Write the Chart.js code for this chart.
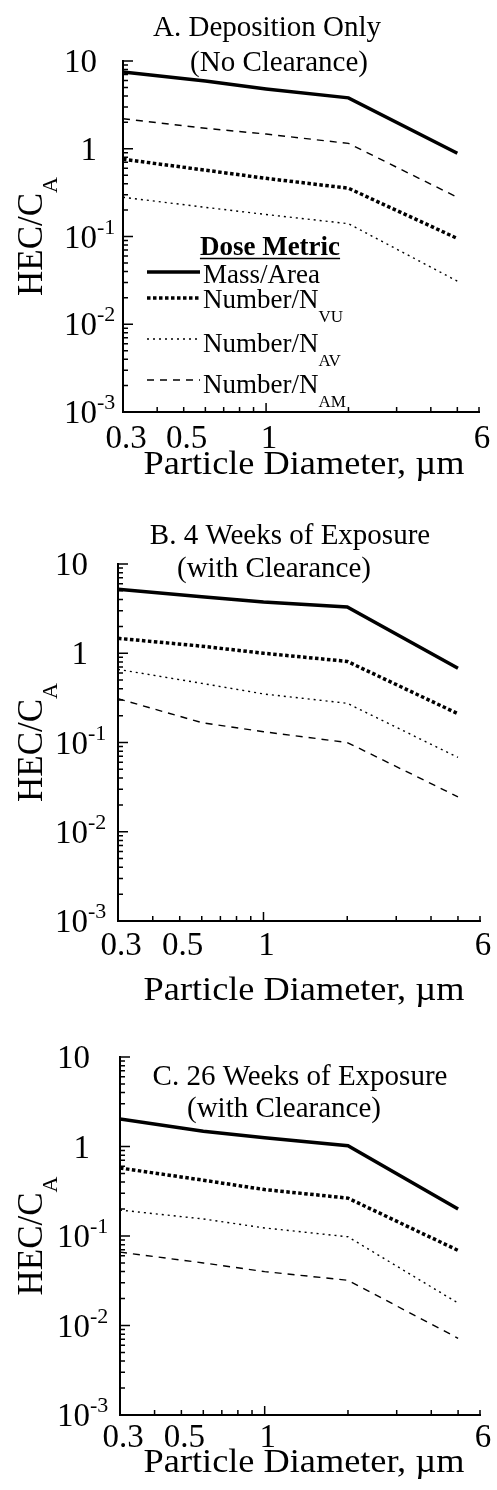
<!DOCTYPE html>
<html>
<head>
<meta charset="utf-8">
<script src="https://cdn.jsdelivr.net/npm/chart.js@4.4.1/dist/chart.umd.min.js"></script>
<style>
  html, body { margin: 0; padding: 0; background: #fff; }
  body { width: 497px; height: 1490px; position: relative; overflow: hidden; }
  canvas { position: absolute; left: 0; }
</style>
</head>
<body>
<canvas id="chartA" width="497" height="490" style="top:0"></canvas>
<canvas id="chartB" width="497" height="530" style="top:490px"></canvas>
<canvas id="chartC" width="497" height="470" style="top:1020px"></canvas>
<script>
// ── Datos ─────────────────────────────────────────────────────────────────────
const DIAMETERS = [0.3, 0.6, 1, 2, 5];           // µm
const X_TICK_LABELS = [0.3, 0.5, 1, 6];
const Y_DECADES = [0.001, 0.01, 0.1, 1, 10];

const METRIC_NAMES = ['Mass/Area', 'Number/N', 'Number/N', 'Number/N'];
const METRIC_SUBS = ['', 'VU', 'AV', 'AM'];

// A. Deposition only
const A_MASS = [7.5, 5.9, 4.8, 3.8, 0.89];
const A_NVU  = [0.76, 0.57, 0.46, 0.355, 0.095];
const A_NAV  = [0.28, 0.215, 0.178, 0.14, 0.031];
const A_NAM  = [2.2, 1.71, 1.47, 1.15, 0.28];

// B. 4 weeks
const B_MASS = [5.2, 4.3, 3.75, 3.3, 0.68];
const B_NVU  = [1.47, 1.2, 1.0, 0.81, 0.21];
const B_NAV  = [0.66, 0.46, 0.35, 0.275, 0.068];
const B_NAM  = [0.31, 0.167, 0.132, 0.1, 0.0246];

// C. 26 weeks
const C_MASS = [2.03, 1.48, 1.25, 1.02, 0.2];
const C_NVU  = [0.575, 0.42, 0.33, 0.265, 0.069];
const C_NAV  = [0.195, 0.155, 0.123, 0.098, 0.0178];
const C_NAM  = [0.066, 0.05, 0.04, 0.032, 0.0072];

const TITLE_A = ['A. Deposition Only', '(No Clearance)'];
const TITLE_B = ['B. 4 Weeks of Exposure', '(with Clearance)'];
const TITLE_C = ['C. 26 Weeks of Exposure', '(with Clearance)'];

const X_TITLE = 'Particle Diameter, \u00b5m';
const Y_TITLE = ['HEC/C', 'A'];
const LEGEND_TITLE = 'Dose Metric';

// ── Estilos ───────────────────────────────────────────────────────────────────
const FONT = '"Liberation Serif", "Times New Roman", serif';
const LINE_STYLES = [
  { borderWidth: 3.5, borderDash: [] },
  { borderWidth: 3.5, borderDash: [3.5, 2.5] },
  { borderWidth: 1.4, borderDash: [2, 4] },
  { borderWidth: 1.4, borderDash: [7, 6] },
];

const PANELS = [
  { id: 'chartA', height: 490, area: { left: 123, top: 61, right: 479, bottom: 412 },
    series: [A_MASS, A_NVU, A_NAV, A_NAM], title: TITLE_A,
    titlePos: [[267, 36], [279, 71]], yLabGap: 26, xLabDy: 36, xTitleDy: 62, legend: true },
  { id: 'chartB', height: 530, area: { left: 118, top: 74, right: 480, bottom: 431 },
    series: [B_MASS, B_NVU, B_NAV, B_NAM], title: TITLE_B,
    titlePos: [[290, 54], [274, 87]], yLabGap: 30, xLabDy: 34, xTitleDy: 79, legend: false },
  { id: 'chartC', height: 470, area: { left: 120, top: 37, right: 480, bottom: 395 },
    series: [C_MASS, C_NVU, C_NAV, C_NAM], title: TITLE_C,
    titlePos: [[300, 65], [284, 97]], yLabGap: 30, xLabDy: 32, xTitleDy: 57, legend: false },
];

// ── Decoración: ticks hacia dentro, etiquetas, títulos, leyenda ───────────────
function makeDecor(p) {
  return {
    id: 'decor',
    afterDraw(chart) {
      const { ctx, chartArea: a, scales: { x, y } } = chart;
      ctx.save();
      ctx.strokeStyle = '#000';
      ctx.fillStyle = '#000';
      ctx.lineWidth = 1.5;

      // ticks eje y
      ctx.beginPath();
      Y_DECADES.forEach((d, i) => {
        const py = y.getPixelForValue(d);
        ctx.moveTo(a.left, py); ctx.lineTo(a.left + 10, py);
        if (i < Y_DECADES.length - 1) {
          for (let m = 2; m <= 9; m++) {
            const pm = y.getPixelForValue(d * m);
            ctx.moveTo(a.left, pm); ctx.lineTo(a.left + 5, pm);
          }
        }
      });
      // ticks eje x
      const xMinor = [0.4, 0.5, 0.6, 0.7, 0.8, 0.9, 2, 3, 4, 5, 6];
      xMinor.forEach(v => {
        const px = x.getPixelForValue(v);
        ctx.moveTo(px, a.bottom); ctx.lineTo(px, a.bottom - 5);
      });
      const p1 = x.getPixelForValue(1);
      ctx.moveTo(p1, a.bottom); ctx.lineTo(p1, a.bottom - 9);
      ctx.stroke();

      // etiquetas eje y
      ctx.textBaseline = 'alphabetic';
      Y_DECADES.forEach(d => {
        const e = Math.round(Math.log10(d));
        const py = y.getPixelForValue(d);
        const base = e === 0 ? '1' : '10';
        const xr = a.left - p.yLabGap;
        ctx.font = '33px ' + FONT;
        ctx.textAlign = 'right';
        ctx.fillText(base, xr, py + 11);
        if (e < 0) {
          ctx.font = '22px ' + FONT;
          ctx.textAlign = 'left';
          ctx.fillText(String(e), xr, py - 3);
        }
      });

      // etiquetas eje x
      ctx.font = '33px ' + FONT;
      ctx.textAlign = 'center';
      X_TICK_LABELS.forEach(v => {
        ctx.fillText(String(v), x.getPixelForValue(v) + 3, a.bottom + p.xLabDy);
      });

      // título eje x (letra algo más ancha, como el original)
      ctx.save();
      ctx.translate(304, a.bottom + p.xTitleDy);
      ctx.scale(1.1, 1);
      ctx.font = '33px ' + FONT;
      ctx.fillText(X_TITLE, 0, 0);
      ctx.restore();

      // título eje y (rotado, con subíndice)
      ctx.save();
      ctx.translate(42, (a.top + a.bottom) / 2);
      ctx.rotate(-Math.PI / 2);
      ctx.font = '35px ' + FONT;
      const w1 = ctx.measureText(Y_TITLE[0]).width;
      ctx.font = '22px ' + FONT;
      const w2 = ctx.measureText(Y_TITLE[1]).width;
      const x0 = -(w1 + w2) / 2;
      ctx.textAlign = 'left';
      ctx.font = '35px ' + FONT;
      ctx.fillText(Y_TITLE[0], x0, 0);
      ctx.font = '22px ' + FONT;
      ctx.fillText(Y_TITLE[1], x0 + w1, 15);
      ctx.restore();

      // título del panel
      ctx.font = '29px ' + FONT;
      ctx.textAlign = 'center';
      p.title.forEach((t, i) => ctx.fillText(t, p.titlePos[i][0], p.titlePos[i][1]));

      // leyenda
      if (p.legend) {
        ctx.font = 'bold 27px ' + FONT;
        ctx.textAlign = 'center';
        ctx.fillText(LEGEND_TITLE, 270, 255);
        const lw = ctx.measureText(LEGEND_TITLE).width;
        ctx.lineWidth = 1.5;
        ctx.beginPath();
        ctx.moveTo(270 - lw / 2, 258.5); ctx.lineTo(270 + lw / 2, 258.5);
        ctx.stroke();

        const lineY = [272, 298, 339, 380];
        const textY = [283, 308, 352, 393];
        chart.data.datasets.forEach((ds, i) => {
          ctx.save();
          ctx.lineWidth = ds.borderWidth;
          ctx.setLineDash(ds.borderDash);
          ctx.beginPath();
          ctx.moveTo(147, lineY[i]); ctx.lineTo(200, lineY[i]);
          ctx.stroke();
          ctx.restore();
          ctx.textAlign = 'left';
          ctx.font = '27px ' + FONT;
          ctx.fillText(METRIC_NAMES[i], 203, textY[i]);
          if (METRIC_SUBS[i]) {
            const w = ctx.measureText(METRIC_NAMES[i]).width;
            ctx.font = '17px ' + FONT;
            ctx.fillText(METRIC_SUBS[i], 203 + w, textY[i] + 14);
          }
        });
      }
      ctx.restore();
    }
  };
}

function renderPanel(p) {
  const ctx = document.getElementById(p.id);
  const datasets = p.series.map((vals, i) => ({
    label: METRIC_NAMES[i] + METRIC_SUBS[i],
    data: DIAMETERS.map((d, j) => ({ x: d, y: vals[j] })),
    borderColor: '#000',
    borderWidth: LINE_STYLES[i].borderWidth,
    borderDash: LINE_STYLES[i].borderDash,
    borderCapStyle: 'butt',
    pointRadius: 0,
    tension: 0,
    fill: false,
  }));

  new Chart(ctx, {
    type: 'line',
    data: { datasets },
    options: {
      responsive: false,
      animation: false,
      devicePixelRatio: 1,
      events: [],
      layout: { padding: { top: p.area.top, right: 497 - p.area.right, bottom: 0, left: 0 } },
      plugins: { legend: { display: false }, tooltip: { enabled: false }, title: { display: false } },
      scales: {
        x: {
          type: 'logarithmic', min: 0.3, max: 6,
          grid: { display: false },
          border: { display: true, color: '#000', width: 2 },
          ticks: { display: false },
          afterFit(s) { s.height = p.height - p.area.bottom; },
        },
        y: {
          type: 'logarithmic', min: 0.001, max: 10,
          grid: { display: false },
          border: { display: true, color: '#000', width: 2 },
          ticks: { display: false },
          afterFit(s) { s.width = p.area.left; },
        },
      },
    },
    plugins: [makeDecor(p)],
  });
}

PANELS.forEach(renderPanel);
</script>
</body>
</html>
